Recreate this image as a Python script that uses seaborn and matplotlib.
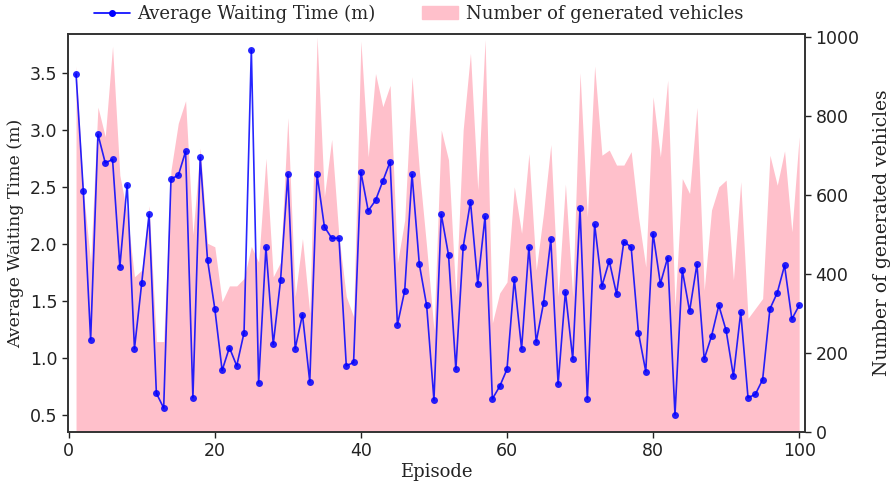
import numpy as np
import pandas as pd
import matplotlib
matplotlib.use("Agg")
import matplotlib.pyplot as plt
import seaborn as sns
from matplotlib.lines import Line2D
from matplotlib.patches import Patch

episodes = list(range(1, 101))

waiting_time = [3.49, 2.46, 1.16, 2.96, 2.71, 2.74, 1.80, 2.52, 1.08, 1.66,
                2.26, 0.69, 0.56, 2.57, 2.60, 2.81, 0.65, 2.76, 1.86, 1.43,
                0.89, 1.09, 0.93, 1.22, 3.70, 0.78, 1.97, 1.12, 1.68, 2.61,
                1.08, 1.38, 0.79, 2.61, 2.15, 2.05, 2.05, 0.93, 0.96, 2.63,
                2.29, 2.38, 2.55, 2.72, 1.29, 1.59, 2.61, 1.82, 1.46, 0.63,
                2.26, 1.90, 0.90, 1.97, 2.37, 1.65, 2.24, 0.64, 0.75, 0.90,
                1.69, 1.08, 1.97, 1.14, 1.48, 2.04, 0.77, 1.58, 0.99, 2.31,
                0.64, 2.17, 1.63, 1.85, 1.56, 2.02, 1.97, 1.22, 0.88, 2.09,
                1.65, 1.88, 0.50, 1.77, 1.41, 1.82, 0.99, 1.19, 1.46, 1.24,
                0.84, 1.40, 0.65, 0.68, 0.81, 1.43, 1.57, 1.81, 1.34, 1.46]

vehicles = [927, 612, 430, 823, 748, 977, 650, 554, 393, 410,
            573, 229, 229, 663, 782, 839, 500, 719, 478, 469,
            330, 370, 370, 389, 470, 430, 693, 393, 430, 796,
            343, 490, 301, 1001, 596, 741, 494, 343, 292, 990,
            697, 908, 824, 878, 428, 537, 900, 663, 469, 258,
            765, 689, 343, 765, 959, 613, 994, 276, 352, 380,
            621, 503, 705, 410, 554, 728, 343, 628, 343, 910,
            545, 927, 701, 714, 676, 676, 710, 545, 418, 849,
            697, 891, 317, 642, 604, 822, 359, 562, 621, 638,
            385, 634, 288, 313, 338, 701, 625, 712, 507, 748]

x_ticks = [0, 20, 40, 60, 80, 100]
left_ticks = [0.5, 1.0, 1.5, 2.0, 2.5, 3.0, 3.5]
right_ticks = [0, 200, 400, 600, 800, 1000]

df = pd.DataFrame({"Episode": episodes, "wait": waiting_time, "veh": vehicles})

sns.set_style("ticks")
plt.rcParams["font.family"] = ["DejaVu Sans"]

serif = ["DejaVu Serif"]

fig = plt.figure(figsize=(8.9, 4.9), dpi=100)
ax1 = fig.add_axes([0.0764, 0.1184, 0.8281, 0.8122])
ax2 = ax1.twinx()

ax2.fill_between(df["Episode"], 0, df["veh"], color="pink", linewidth=0)
ax2.set_ylim(0, 1008)
ax2.set_yticks(right_ticks)

sns.lineplot(data=df, x="Episode", y="wait", ax=ax1, color="blue",
             marker="o", markersize=5, markeredgewidth=0, linewidth=1.2,
             alpha=0.85)
ax1.set_zorder(ax2.get_zorder() + 1)
ax1.patch.set_visible(False)

ax1.set_xlim(-0.1, 100.8)
ax1.set_ylim(0.35, 3.84)
ax1.set_xticks(x_ticks)
ax1.set_yticks(left_ticks)

for a in (ax1, ax2):
    a.tick_params(labelsize=12.5, length=4, width=1, colors="#222222")
    for s in a.spines.values():
        s.set_color("#333333")
        s.set_linewidth(1.2)

ax1.set_xlabel("Episode", fontsize=13, family=serif, color="#222222", labelpad=2)
ax1.set_ylabel("Average Waiting Time (m)", fontsize=12.5, family=serif, color="#222222")
ax2.set_ylabel("Number of generated vehicles", fontsize=13.5, family=serif,
               color="#222222", labelpad=10)

handles = [Line2D([0], [0], color="blue", marker="o", markersize=4, linewidth=1.2),
           Patch(facecolor="pink", edgecolor="pink")]
labels = ["Average Waiting Time (m)", "Number of generated vehicles"]
fig.legend(handles, labels, loc="center", bbox_to_anchor=(0.47, 0.972), ncol=2,
           frameon=False, prop={"family": serif, "size": 13},
           columnspacing=2.6, handlelength=2.0, handletextpad=0.4)

fig.savefig("out.png", dpi=100)
